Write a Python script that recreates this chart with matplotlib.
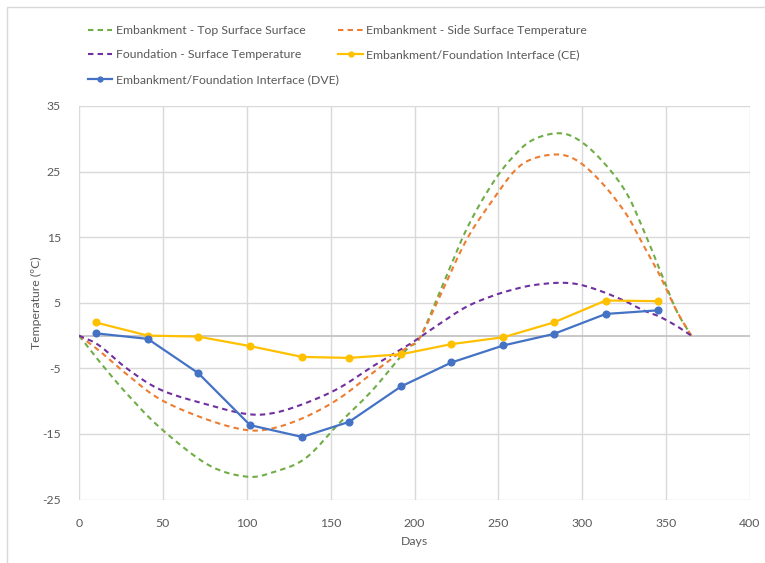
import numpy as np
import matplotlib
matplotlib.use("Agg")
import matplotlib.pyplot as plt
from matplotlib.lines import Line2D
from matplotlib.patches import Rectangle

# Surface temperature curves (smoothed series)
surface_days = [0, 12, 29, 49, 77, 100, 116, 135, 155, 175, 195, 203, 215, 231,
                247, 260, 271, 286, 298, 312, 326, 336, 346, 356, 365]
top_surface = [0, -3.9, -9.0, -14.2, -19.7, -21.5, -20.8, -18.7, -13.4, -8.3, -2.2, -0.4,
               6.6, 16.2, 23.4, 27.6, 29.9, 30.85, 29.8, 26.6, 21.9, 16.4, 10.2, 3.9, 0]
side_surface = [0, -2.3, -6.0, -9.8, -12.85, -14.4, -14.1, -12.4, -9.6, -5.7, -1.9, -0.4,
                5.9, 14.6, 20.8, 25.2, 27.0, 27.6, 26.5, 23.2, 18.6, 14.0, 9.3, 3.9, 0]
foundation_surface = [0, -1.5, -5.1, -8.3, -10.55, -11.95, -11.8, -10.3, -8.0, -4.7, -1.65, -0.3,
                      1.8, 4.4, 6.1, 7.1, 7.7, 8.05, 7.8, 6.7, 5.2, 3.9, 2.9, 1.5, 0]

# Interface temperatures
interface_days = [10, 41, 71, 102, 133, 161, 192, 222, 253, 283, 314, 345]
interface_ce = [2.0, 0.0, -0.15, -1.6, -3.25, -3.4, -2.85, -1.3, -0.25, 2.0, 5.35, 5.25]
interface_dve = [0.35, -0.5, -5.7, -13.65, -15.45, -13.15, -7.75, -4.1, -1.5, 0.25, 3.3, 3.85]

x_ticks = [0, 50, 100, 150, 200, 250, 300, 350, 400]
y_ticks = [-25, -15, -5, 5, 15, 25, 35]

labels = ["Embankment - Top Surface Surface",
          "Embankment - Side Surface Temperature",
          "Foundation - Surface Temperature",
          "Embankment/Foundation Interface (CE)",
          "Embankment/Foundation Interface (DVE)"]

GREEN, ORANGE, PURPLE = "#70AD47", "#ED7D31", "#7030A0"
YELLOW, BLUE = "#FFC000", "#4472C4"
TEXT = "#595959"
FS = 8.8


def smooth(x, y, n=20):
    """Catmull-Rom style smoothing of a polyline, like a spreadsheet smoothed line."""
    x = np.asarray(x, float)
    y = np.asarray(y, float)
    px = np.concatenate([[2 * x[0] - x[1]], x, [2 * x[-1] - x[-2]]])
    py = np.concatenate([[2 * y[0] - y[1]], y, [2 * y[-1] - y[-2]]])
    xs, ys = [], []
    t = np.linspace(0, 1, n, endpoint=False)
    for i in range(1, len(px) - 2):
        p0, p1, p2, p3 = (np.array([px[j], py[j]]) for j in (i - 1, i, i + 1, i + 2))
        tt = t[:, None]
        pts = 0.5 * ((2 * p1) + (-p0 + p2) * tt + (2 * p0 - 5 * p1 + 4 * p2 - p3) * tt ** 2
                     + (-p0 + 3 * p1 - 3 * p2 + p3) * tt ** 3)
        xs.extend(pts[:, 0])
        ys.extend(pts[:, 1])
    xs.append(x[-1])
    ys.append(y[-1])
    return np.array(xs), np.array(ys)


plt.rcParams["font.family"] = ["Lato", "DejaVu Sans"]
plt.rcParams["axes.unicode_minus"] = False

fig = plt.figure(figsize=(7.65, 5.63), dpi=100)
ax = fig.add_axes([79 / 765, 1 - 499.6 / 563, 671 / 765, 393.6 / 563])

# outer chart frame
fig.patches.append(Rectangle((7 / 765, -0.1), 1.2, 1 - 7 / 563 + 0.1, transform=fig.transFigure,
                             fill=False, edgecolor="#D9D9D9", lw=1.0, zorder=0))

dash = (0, (2.6, 2.0))
for ys, c in [(top_surface, GREEN), (side_surface, ORANGE), (foundation_surface, PURPLE)]:
    sx, sy = smooth(surface_days, ys)
    ax.plot(sx, sy, color=c, lw=1.5, linestyle=dash, zorder=3)

ax.plot(interface_days, interface_ce, color=YELLOW, lw=1.6, marker="o", ms=4.8, zorder=4)
ax.plot(interface_days, interface_dve, color=BLUE, lw=1.6, marker="o", ms=4.8, zorder=5)

ax.set_xlim(0, 400)
ax.set_ylim(-25, 35)
ax.set_xticks(x_ticks)
ax.set_yticks(y_ticks)
ax.grid(True, color="#D9D9D9", lw=1.0, zorder=0)
ax.set_axisbelow(True)
ax.axhline(0, color="#BFBFBF", lw=1.2, zorder=1)
for s in ax.spines.values():
    s.set_visible(False)
ax.tick_params(axis="both", length=0, labelsize=FS, labelcolor=TEXT)
ax.tick_params(axis="y", pad=13)
ax.tick_params(axis="x", pad=13)
ax.set_xlabel("Days", fontsize=FS, color=TEXT, labelpad=5)
ax.set_ylabel("Temperature (ºC)", fontsize=FS, color=TEXT, labelpad=0)

handles = [
    Line2D([], [], color=GREEN, lw=1.5, linestyle=dash),
    Line2D([], [], color=ORANGE, lw=1.5, linestyle=dash),
    Line2D([], [], color=PURPLE, lw=1.5, linestyle=dash),
    Line2D([], [], color=YELLOW, lw=1.6, marker="o", ms=3.5),
    Line2D([], [], color=BLUE, lw=1.6, marker="o", ms=3.5),
]
order = [0, 2, 4, 1, 3]
leg = fig.legend([handles[i] for i in order], [labels[i] for i in order], ncol=2,
                 loc="upper left", bbox_to_anchor=(88 / 765, 1 - 25 / 563), frameon=False,
                 fontsize=FS, handlelength=2.0, handletextpad=0.25, columnspacing=0.0,
                 labelspacing=1.1, borderaxespad=0, borderpad=0)
for t in leg.get_texts():
    t.set_color(TEXT)

fig.savefig("out.png", dpi=100)
